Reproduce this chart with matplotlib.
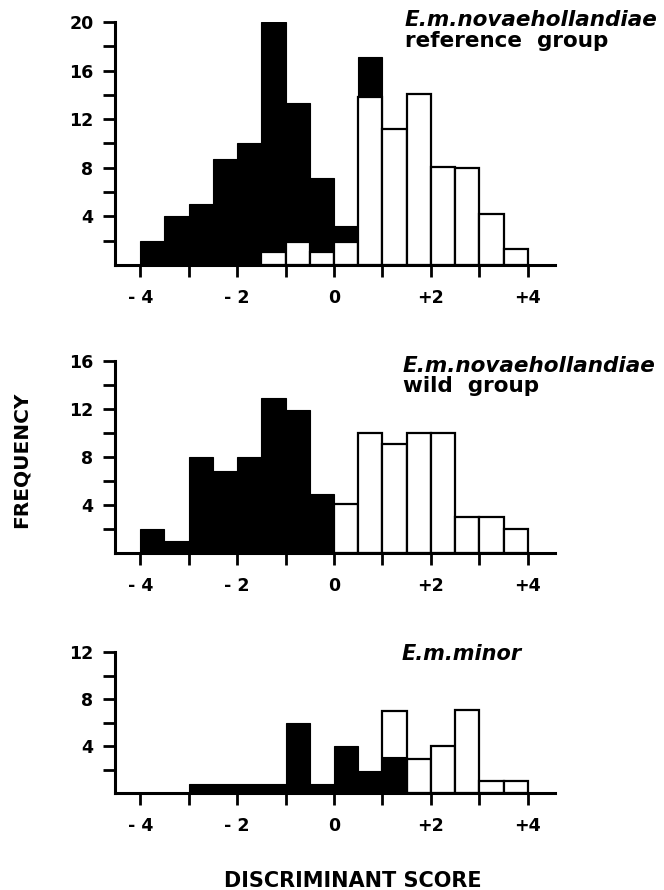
import matplotlib
matplotlib.use("Agg")
import matplotlib.pyplot as plt

# bins of width 0.5 from -4 to +4 (left edges)
bin_left = [-4.0, -3.5, -3.0, -2.5, -2.0, -1.5, -1.0, -0.5,
            0.0, 0.5, 1.0, 1.5, 2.0, 2.5, 3.0, 3.5]
bin_width = 0.5

# reference group
ref_black = [2, 4, 5, 8.7, 10, 20, 13.3, 7.2, 3.2, 17.1, 0, 0, 0, 0, 0, 0]
ref_white = [0, 0, 0, 0, 0, 1.1, 1.9, 1.1, 1.9, 13.8, 11.2, 14.1, 8.1, 8, 4.2, 1.3]

# wild group
wild_black = [2, 1, 8, 6.8, 8, 12.9, 11.9, 4.9, 0, 0, 0, 0, 0, 0, 0, 0]
wild_white = [0, 0, 0, 0, 0, 0, 0, 0, 4.1, 10, 9.1, 10, 10, 3, 3, 2]

# E.m.minor
minor_black = [0, 0, 0.8, 0.8, 0.8, 0.8, 6, 0.8, 4, 1.9, 3.05, 0, 0, 0, 0, 0]
minor_white = [0, 0, 0, 0, 0, 0, 0, 0, 0, 0, 7, 2.9, 4, 7.1, 1, 1]

x_ticks = [-4, -3, -2, -1, 0, 1, 2, 3, 4]
x_labels = ["- 4", "", "- 2", "", "0", "", "+2", "", "+4"]

W, H = 664, 890
fig = plt.figure(figsize=(W / 100, H / 100), dpi=100)
plt.rcParams['font.family'] = ['DejaVu Sans']
plt.rcParams['font.weight'] = 'bold'

# (bottom px, height px, ymax, black, white, black drawn in front?)
panels = [
    (265, 243, 20, ref_black, ref_white, False),
    (553, 192, 16, wild_black, wild_white, False),
    (793, 141, 12, minor_black, minor_white, True),
]

for base, hpx, ymax, black, white, black_front in panels:
    ax = fig.add_axes([115 / W, 1 - base / H, 440 / W, hpx / H])
    zb, zw = (3, 2) if black_front else (2, 3)
    ax.bar(bin_left, black, width=bin_width, align='edge', color='black',
           edgecolor='black', linewidth=0.8, zorder=zb)
    wl = [x for x, v in zip(bin_left, white) if v > 0]
    wv = [v for v in white if v > 0]
    ax.bar(wl, wv, width=bin_width, align='edge', color='white',
           edgecolor='black', linewidth=1.6, zorder=zw)
    ax.set_xlim(-4.52, 4.56)
    ax.set_ylim(0, ymax)
    ax.spines['top'].set_visible(False)
    ax.spines['right'].set_visible(False)
    ax.spines['left'].set_linewidth(2.2)
    ax.spines['bottom'].set_linewidth(2.2)
    ax.spines['left'].set_zorder(4)
    ax.spines['bottom'].set_zorder(4)
    yt = list(range(2, ymax + 1, 2))
    ax.set_yticks(yt)
    ax.set_yticklabels([str(v) if v % 4 == 0 else "" for v in yt])
    ax.set_xticks(x_ticks)
    ax.set_xticklabels(x_labels)
    ax.tick_params(axis='both', direction='out', length=8.5, width=2.0,
                   labelsize=12.5)
    ax.tick_params(axis='x', pad=9)
    ax.tick_params(axis='y', pad=7)
    for lab in ax.get_xticklabels() + ax.get_yticklabels():
        lab.set_fontweight('bold')
    ax.patch.set_alpha(0)

def ftext(x, y, s, **kw):
    fig.text(x / W, 1 - y / H, s, fontweight='bold', va='baseline', **kw)

ftext(405, 26, "E.m.novaehollandiae", fontsize=15.5, style='italic')
ftext(405, 47, "reference  group", fontsize=15.5)
ftext(403, 372, "E.m.novaehollandiae", fontsize=15.5, style='italic')
ftext(403, 392, "wild  group", fontsize=15.5)
ftext(402, 660, "E.m.minor", fontsize=15, style='italic')

fig.text(21 / W, 1 - 460 / H, "FREQUENCY", rotation=90, fontsize=14.5,
         fontweight='bold', ha='center', va='center')
fig.text(353 / W, 1 - 881 / H, "DISCRIMINANT SCORE", fontsize=15,
         fontweight='bold', ha='center', va='center')

fig.savefig("out.png", dpi=100)
